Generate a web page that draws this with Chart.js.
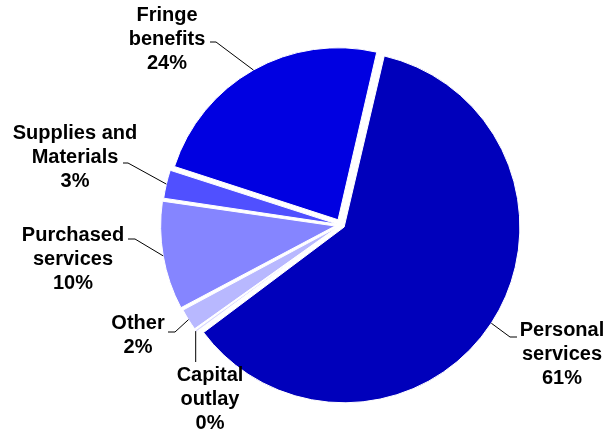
<!DOCTYPE html>
<html>
<head>
<meta charset="utf-8">
<script src="https://cdn.jsdelivr.net/npm/chart.js@4/dist/chart.umd.min.js"></script>
<style>
  body { margin: 0; background: #fff; }
  #wrap { width: 607px; height: 432px; }
</style>
</head>
<body>
<div id="wrap"><canvas id="pie" width="607" height="432"></canvas></div>
<script>
// spending by category, clockwise from the top
const categories = ['Personal services', 'Capital outlay', 'Other', 'Purchased services', 'Supplies and Materials', 'Fringe benefits'];
const shares = [61.2, 0.3, 2.1, 10.1, 2.7, 23.6];
const sliceColors = ['#0000BB', '#D8D8FF', '#B8B8FF', '#8585FF', '#5050FF', '#0000E1'];

// how each label is broken into lines
const labelLines = [
  ['Personal', 'services'],
  ['Capital', 'outlay'],
  ['Other'],
  ['Purchased', 'services'],
  ['Supplies and', 'Materials'],
  ['Fringe', 'benefits']
];

// label block placement: text centre x, first line y, leader elbow and end
const labelSpots = [
  { x: 562, y: 330, elbow: [510, 337], end: [517, 337] },
  { x: 210, y: 375, elbow: null, end: [null, 362] },
  { x: 138, y: 323, elbow: [175, 332], end: [168, 332] },
  { x: 73, y: 235, elbow: [135, 239], end: [128, 239] },
  { x: 75, y: 133, elbow: [128, 163], end: [123, 163] },
  { x: 167, y: 15, elbow: [216, 42], end: [210, 42] }
];

// explode amount per slice (chart.js moves an arc by offset / 4 and
// also grows narrow or very wide arcs a little, so these differ)
const explode = [15, 16, 16, 24, 16, 24];

const total = shares.reduce((a, b) => a + b, 0);

const calloutPlugin = {
  id: 'callouts',
  afterDraw(chart) {
    const ctx = chart.ctx;
    const arcs = chart.getDatasetMeta(0).data;
    ctx.save();
    ctx.strokeStyle = '#000';
    ctx.lineWidth = 1;
    arcs.forEach((arc, i) => {
      const spot = labelSpots[i];
      const mid = (arc.startAngle + arc.endAngle) / 2;
      const shift = arc.options.offset / 4;
      const grow = shift * (1 - Math.sin(Math.min(Math.PI, arc.circumference)));
      const reach = arc.outerRadius + shift + grow;
      const ax = arc.x + Math.cos(mid) * reach;
      const ay = arc.y + Math.sin(mid) * reach;

      ctx.beginPath();
      ctx.moveTo(ax, ay);
      if (spot.elbow) {
        ctx.lineTo(spot.elbow[0], spot.elbow[1]);
        ctx.lineTo(spot.end[0], spot.end[1]);
      } else {
        ctx.lineTo(ax, spot.end[1]);
      }
      ctx.stroke();

      const lines = labelLines[i].concat(Math.round(shares[i] / total * 100) + '%');
      ctx.fillStyle = '#000';
      ctx.font = 'bold 20px "Liberation Sans", Arial, sans-serif';
      ctx.textAlign = 'center';
      ctx.textBaseline = 'middle';
      lines.forEach((t, k) => ctx.fillText(t, spot.x, spot.y + k * 24));
    });
    ctx.restore();
  }
};

new Chart(document.getElementById('pie'), {
  type: 'pie',
  data: {
    labels: categories,
    datasets: [{
      data: shares,
      backgroundColor: sliceColors,
      borderColor: '#fff',
      borderWidth: 1,
      offset: explode
    }]
  },
  options: {
    responsive: false,
    animation: false,
    rotation: 13,
    radius: 172,
    layout: { padding: { left: 95, right: 20, top: 28, bottom: 10 } },
    plugins: {
      legend: { display: false },
      tooltip: { enabled: false }
    }
  },
  plugins: [calloutPlugin]
});
</script>
</body>
</html>
